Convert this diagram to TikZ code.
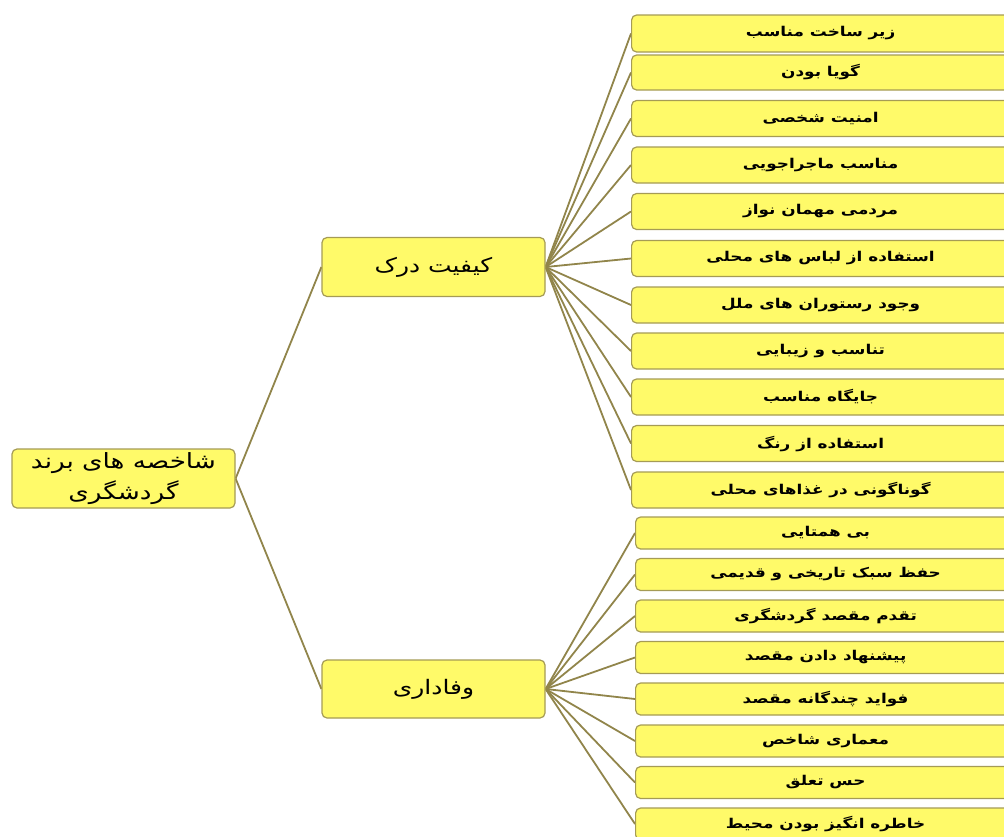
\documentclass[tikz,border=0pt]{standalone}
\usepackage{fontspec}
\usetikzlibrary{backgrounds}
\TeXXeTstate=1
\newfontfamily\arabicfont[Script=Arabic]{DejaVu Sans}
\newfontfamily\widefont[Script=Arabic,FakeStretch=1.25]{DejaVu Sans}
\definecolor{boxfill}{RGB}{255,250,105}
\definecolor{boxline}{RGB}{165,155,85}
\definecolor{linkcol}{RGB}{145,133,75}
\tikzset{
  box/.style={draw=boxline, line width=1.2pt, fill=boxfill, rounded corners=5pt, align=center, inner sep=0pt},
  rootbox/.style={box, minimum width=223pt, minimum height=59pt, font=\widefont\fontsize{21}{31}\selectfont},
  midbox/.style={box, minimum width=223pt, minimum height=59pt, font=\widefont\fontsize{20}{24}\selectfont},
  upleaf/.style={box, minimum width=378pt, minimum height=36pt, anchor=west, font=\widefont\bfseries\fontsize{13.5}{15}\selectfont},
  lowleaf/.style={box, minimum width=380pt, minimum height=32pt, anchor=west, font=\widefont\bfseries\fontsize{13.5}{15}\selectfont},
  link/.style={draw=linkcol, line width=1.8pt}
}
\newcommand{\rl}[1]{\beginR #1\endR}
\begin{document}
\begin{tikzpicture}[x=1pt,y=-1pt]
\useasboundingbox (0,0) rectangle (1004,836);
\clip (0,0) rectangle (1004,836);
% root and middle
\node[rootbox] (root) at (123.5,478.5) {\rl{شاخصه های برند}\\\rl{گردشگری}};
\node[midbox] (m1) at (433.5,267) {\rl{کیفیت درک}};
\node[midbox, minimum height=58pt] (m2) at (433.5,689) {\rl{وفاداری}};
% upper leaves
\node[upleaf, minimum height=37pt] (u1) at (631,33.5) {\rl{زیر ساخت مناسب}};
\node[upleaf, minimum height=35pt] (u2) at (631,72.5) {\rl{گویا بودن}};
\node[upleaf] (u3) at (631,118.5) {\rl{امنیت شخصی}};
\node[upleaf] (u4) at (631,165) {\rl{مناسب ماجراجویی}};
\node[upleaf] (u5) at (631,211.5) {\rl{مردمی مهمان نواز}};
\node[upleaf] (u6) at (631,258.5) {\rl{استفاده از لباس های محلی}};
\node[upleaf] (u7) at (631,305) {\rl{وجود رستوران های ملل}};
\node[upleaf] (u8) at (631,351) {\rl{تناسب و زیبایی}};
\node[upleaf] (u9) at (631,397) {\rl{جایگاه مناسب}};
\node[upleaf] (u10) at (631,443.5) {\rl{استفاده از رنگ}};
\node[upleaf] (u11) at (631,490) {\rl{گوناگونی در غذاهای محلی}};
% lower leaves
\node[lowleaf] (l1) at (635,533) {\rl{بی همتایی}};
\node[lowleaf] (l2) at (635,574.5) {\rl{حفظ سبک تاریخی و قدیمی}};
\node[lowleaf] (l3) at (635,616) {\rl{تقدم مقصد گردشگری}};
\node[lowleaf] (l4) at (635,657.5) {\rl{پیشنهاد دادن مقصد}};
\node[lowleaf] (l5) at (635,699) {\rl{فواید چندگانه مقصد}};
\node[lowleaf] (l6) at (635,741) {\rl{معماری شاخص}};
\node[lowleaf] (l7) at (635,782.5) {\rl{حس تعلق}};
\node[lowleaf] (l8) at (635,824) {\rl{خاطره انگیز بودن محیط}};
% connectors
\begin{pgfonlayer}{background}
\draw[link] (root.east) -- (m1.west);
\draw[link] (root.east) -- (m2.west);
\foreach \n in {u1,u2,u3,u4,u5,u6,u7,u8,u9,u10,u11}
  \draw[link] (m1.east) -- (\n.west);
\foreach \n in {l1,l2,l3,l4,l5,l6,l7,l8}
  \draw[link] (m2.east) -- (\n.west);
\end{pgfonlayer}
\end{tikzpicture}
\end{document}
